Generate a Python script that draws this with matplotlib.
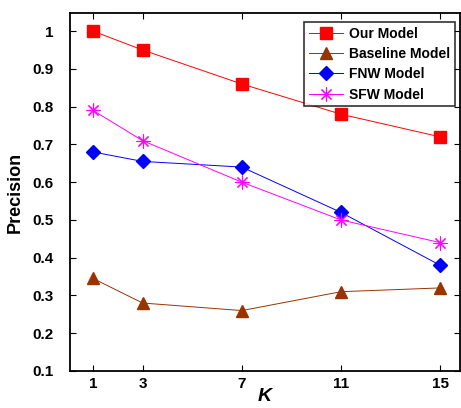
import numpy as np
import matplotlib.pyplot as plt

plt.rcParams['font.family'] = ['Liberation Sans', 'DejaVu Sans']
plt.rcParams['font.weight'] = 'bold'

# data
k = [1, 3, 7, 11, 15]
our_model = [1.0, 0.95, 0.86, 0.78, 0.72]
baseline = [0.345, 0.28, 0.26, 0.31, 0.32]
fnw = [0.68, 0.655, 0.64, 0.52, 0.38]
sfw = [0.79, 0.71, 0.60, 0.50, 0.44]
yticks = [0.1, 0.2, 0.3, 0.4, 0.5, 0.6, 0.7, 0.8, 0.9, 1]

fig = plt.figure(figsize=(4.61, 4.08), dpi=100)
ax = fig.add_axes([70/461, 37/408, 390/461, 358/408])

ax.plot(k, our_model, color='red', lw=0.7, marker='s', ms=8, mfc='red', mec='red', label='Our Model')
ax.plot(k, baseline, color='#993300', lw=0.7, marker='^', ms=9, mfc='#993300', mec='#993300', label='Baseline Model')
ax.plot(k, fnw, color='blue', lw=0.7, marker='D', ms=7, mfc='blue', mec='blue', label='FNW Model')
ax.plot(k, sfw, color='magenta', lw=0.7, marker=(8, 2, 0), ms=10, mec='magenta', mew=0.8, label='SFW Model')

ax.set_xlim(0.07, 15.8)
ax.set_ylim(0.1, 1.048)
ax.set_xticks(k)
ax.set_yticks(yticks)
ax.set_yticklabels(['0.1', '0.2', '0.3', '0.4', '0.5', '0.6', '0.7', '0.8', '0.9', '1'])
ax.tick_params(direction='in', top=True, right=True, labelsize=11, length=4, width=0.8)
ax.tick_params(axis='x', pad=4)
ax.tick_params(axis='y', pad=12)
for s in ax.spines.values():
    s.set_linewidth(1.3)

ax.set_xlabel('K', fontsize=14, fontweight='bold', fontstyle='italic', labelpad=-2)
ax.set_ylabel('Precision', fontsize=13, fontweight='bold', labelpad=6)

leg = ax.legend(loc='upper right', bbox_to_anchor=(0.987, 0.975), fontsize=10, frameon=True,
                fancybox=False, edgecolor='black', borderpad=0.35, labelspacing=0.45,
                handlelength=2.4, handletextpad=0.45, borderaxespad=0)
leg.get_frame().set_linewidth(1.2)

plt.savefig('out.png', dpi=100)
